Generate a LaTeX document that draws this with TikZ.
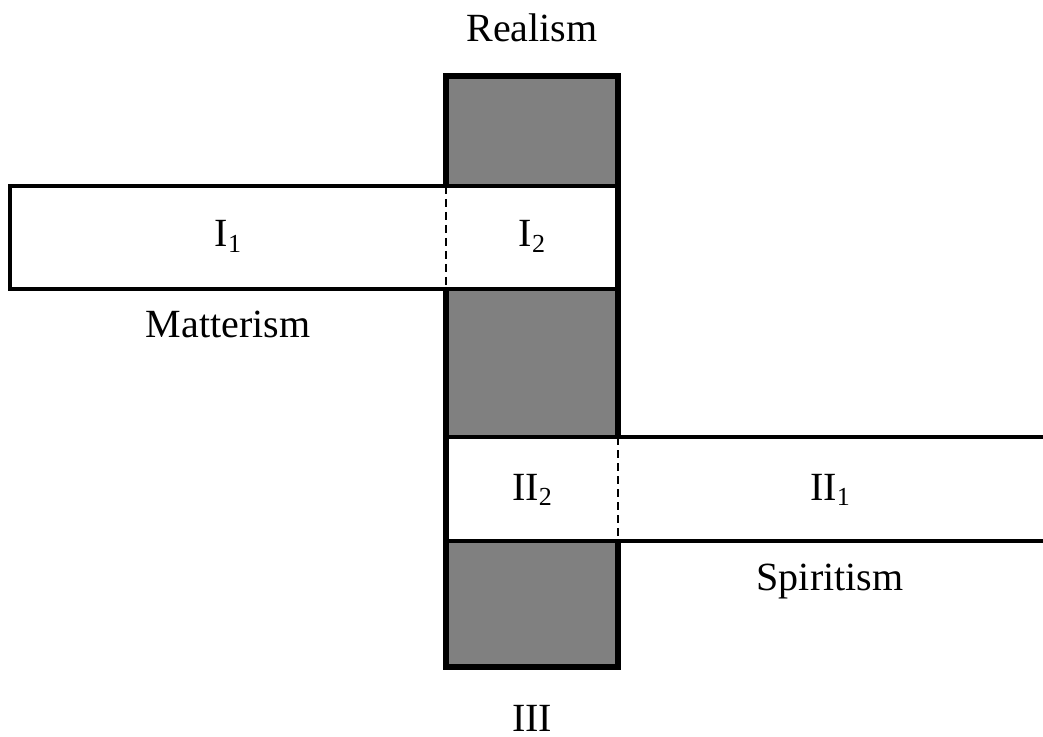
\documentclass[tikz,border=0pt]{standalone}
\usepackage{fontspec}
\setmainfont{Liberation Serif}
\newcommand{\sub}[1]{\raisebox{-0.3ex}{\fontsize{13}{13}\selectfont #1}}
\begin{document}
\begin{tikzpicture}[x=0.5pt, y=-0.5pt,
    labelStyle/.style={font=\fontsize{20}{24}\selectfont, anchor=base, inner sep=0pt},
    barStyle/.style={line width=3pt},
    boxStyle/.style={draw, fill=white, line width=1.6pt},
    cutStyle/.style={line width=1.3pt, dash pattern=on 4pt off 2.5pt}]
    \useasboundingbox (0,0) rectangle (1043,737);
    \clip (0,0) rectangle (1043,737);

    % Corners
    \coordinate (barNW) at (446,76);
    \coordinate (barSE) at (618,667);
    \coordinate (topNW) at (10,186);
    \coordinate (topSE) at (618,289);
    \coordinate (lowNW) at (446,437);
    \coordinate (lowSE) at (1060,541);

    % Bar
    \fill[gray] (barNW) rectangle (barSE);

    % Boxes
    \draw[boxStyle] (topNW) rectangle (topSE);
    \draw[boxStyle] (lowNW) rectangle (lowSE);

    % Cuts
    \draw[cutStyle] (446,186) -- (446,289);
    \draw[cutStyle] (618,437) -- (618,541);

    % Bar outline
    \draw[barStyle] (446,186) -- (446,76) -- (618,76) -- (618,437);
    \draw[barStyle] (618,541) -- (618,667) -- (446,667) -- (446,289);

    % Labels
    \node[labelStyle] (realism)   at (532,42)  {Realism};
    \node[labelStyle] (i1)        at (228,247) {I\sub{1}};
    \node[labelStyle] (i2)        at (532,247) {I\sub{2}};
    \node[labelStyle] (matterism) at (228,337) {Matterism};
    \node[labelStyle] (ii2)       at (532,500) {II\sub{2}};
    \node[labelStyle] (ii1)       at (830,500) {II\sub{1}};
    \node[labelStyle] (spiritism) at (830,590) {Spiritism};
    \node[labelStyle] (iii)       at (532,731) {III};
\end{tikzpicture}
\end{document}
